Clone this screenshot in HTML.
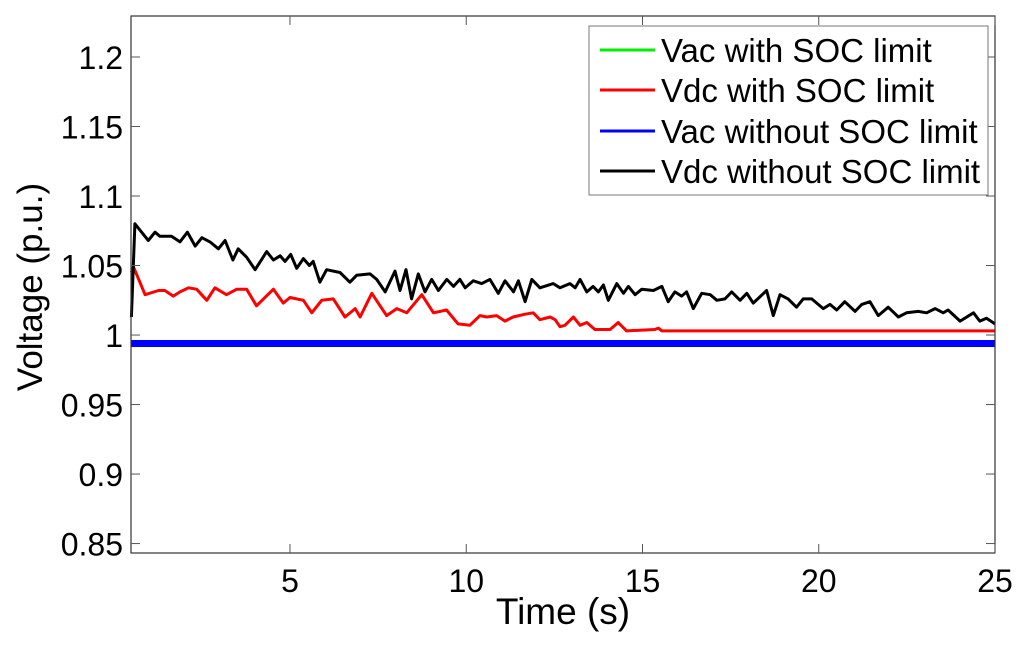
<!DOCTYPE html>
<html><head><meta charset="utf-8"><style>
html,body{margin:0;padding:0;background:#fff;}
svg{display:block;font-family:"Liberation Sans",Arial,sans-serif;}
</style></head><body>
<svg id="chart" width="1024" height="645" viewBox="0 0 1024 645">
<rect x="0" y="0" width="1024" height="645" fill="#fff"/>
<g id="grid"></g>
<g id="series"></g>
<rect x="131" y="16" width="864" height="537" fill="none" stroke="#333" stroke-width="1.2"/>
<g id="ticks"></g>
<text x="42" y="287" font-size="35" text-anchor="middle" transform="rotate(-90 42 287)">Voltage (p.u.)</text>
<text x="563" y="624" font-size="37" text-anchor="middle">Time (s)</text>
<g>
<rect x="589" y="26" width="399" height="169" fill="#fff" stroke="#777" stroke-width="1"/>
<line x1="600" y1="50" x2="655" y2="50" stroke="#00ee00" stroke-width="3"/>
<text x="661" y="62" font-size="33">Vac with SOC limit</text>
<line x1="600" y1="90" x2="655" y2="90" stroke="#ff0000" stroke-width="3"/>
<text x="661" y="102" font-size="33">Vdc with SOC limit</text>
<line x1="600" y1="131" x2="655" y2="131" stroke="#0000ff" stroke-width="3"/>
<text x="661" y="143" font-size="33">Vac without SOC limit</text>
<line x1="600" y1="171" x2="655" y2="171" stroke="#000" stroke-width="3"/>
<text x="661" y="183" font-size="33">Vdc without SOC limit</text>
</g>
</svg>
<script>
const xTicks=[5,10,15,20,25];
const yTicks=[0.85,0.9,0.95,1,1.05,1.1,1.15,1.2];
const yTickLabels=["0.85","0.9","0.95","1","1.05","1.1","1.15","1.2"];
const blackT=[0.5,0.6,0.98,1.17,1.31,1.64,1.88,2.09,2.31,2.5,2.73,2.97,3.16,3.38,3.53,3.77,4.01,4.34,4.53,4.72,4.86,5.02,5.19,5.38,5.55,5.66,5.85,6.04,6.42,6.7,6.89,7.27,7.46,7.7,7.98,8.12,8.29,8.45,8.64,8.83,9.02,9.21,9.45,9.64,9.82,9.97,10.2,10.44,10.67,10.91,11.1,11.34,11.48,11.67,11.86,12.09,12.47,12.66,12.94,13.09,13.23,13.42,13.6,13.75,13.89,14.03,14.27,14.46,14.6,14.79,14.98,15.31,15.55,15.73,15.92,16.11,16.25,16.44,16.68,16.92,17.11,17.34,17.53,17.77,17.96,18.14,18.52,18.71,18.9,19.13,19.37,19.56,19.8,20.13,20.32,20.51,20.74,21.03,21.22,21.45,21.69,21.97,22.26,22.49,22.82,23.06,23.3,23.53,23.67,24.01,24.39,24.57,24.76,25];
const blackV=[1.013,1.08,1.068,1.074,1.071,1.071,1.067,1.074,1.064,1.07,1.067,1.062,1.068,1.054,1.062,1.056,1.047,1.06,1.054,1.057,1.053,1.058,1.048,1.055,1.05,1.053,1.038,1.047,1.045,1.038,1.043,1.044,1.04,1.031,1.046,1.032,1.047,1.026,1.044,1.031,1.04,1.032,1.04,1.035,1.04,1.034,1.039,1.037,1.04,1.03,1.039,1.031,1.039,1.024,1.04,1.034,1.037,1.034,1.037,1.034,1.04,1.031,1.035,1.031,1.036,1.025,1.037,1.03,1.035,1.029,1.033,1.032,1.035,1.024,1.031,1.028,1.031,1.019,1.03,1.029,1.025,1.026,1.031,1.025,1.03,1.023,1.032,1.014,1.029,1.026,1.02,1.026,1.026,1.019,1.022,1.018,1.024,1.017,1.022,1.024,1.014,1.02,1.013,1.016,1.017,1.016,1.019,1.016,1.018,1.01,1.016,1.01,1.012,1.008];
const redT=[0.5,0.56,0.89,1.27,1.45,1.69,1.88,2.12,2.35,2.64,2.87,3.2,3.49,3.77,4.05,4.53,4.81,5.0,5.38,5.62,5.9,6.23,6.56,6.85,6.99,7.32,7.74,8.03,8.31,8.74,9.07,9.44,9.77,10.1,10.39,10.58,10.86,11.1,11.33,11.67,11.9,12.09,12.38,12.52,12.66,12.8,13.04,13.23,13.42,13.65,14.08,14.31,14.55,15.35,15.45,15.55,25];
const redV=[1.045,1.049,1.029,1.032,1.032,1.028,1.031,1.034,1.033,1.025,1.034,1.029,1.033,1.033,1.021,1.033,1.023,1.027,1.025,1.016,1.025,1.026,1.013,1.019,1.013,1.03,1.014,1.019,1.016,1.029,1.016,1.018,1.008,1.007,1.014,1.013,1.014,1.01,1.013,1.015,1.016,1.011,1.013,1.011,1.006,1.007,1.013,1.007,1.009,1.004,1.004,1.009,1.003,1.004,1.005,1.003,1.003];
const acT=[0.5,25];
const vacWith=[0.9939,0.9939];
const vacWithout=[0.9939,0.9939];
const X0=131,X1=995,Y0=553,Y1=16,tMin=0.49,tMax=25,vMin=0.8432,vMax=1.2295;
function sx(t){return X0+(t-tMin)/(tMax-tMin)*(X1-X0);}
function sy(v){return Y0-(v-vMin)/(vMax-vMin)*(Y0-Y1);}
const NS="http://www.w3.org/2000/svg";
const ser=document.getElementById('series'),tk=document.getElementById('ticks');
function line(ts,vs,color,w,name){
  const p=document.createElementNS(NS,'polyline');
  p.setAttribute('points',ts.map((t,i)=>sx(t).toFixed(1)+','+sy(vs[i]).toFixed(1)).join(' '));
  p.setAttribute('fill','none');p.setAttribute('stroke',color);p.setAttribute('stroke-width',w);
  p.setAttribute('stroke-linejoin','round');
  
  
  ser.appendChild(p);
}
line(acT,vacWith,'#00ee00',3,'vac-with-soc-line');
line(acT,vacWithout,'#0000ff',7,'vac-without-soc-line');
line(redT,redV,'#ff0000',3,'vdc-with-soc-line');
line(blackT,blackV,'#000000',3,'vdc-without-soc-line');
function seg(x1,y1,x2,y2){const l=document.createElementNS(NS,'line');l.setAttribute('x1',x1);l.setAttribute('y1',y1);l.setAttribute('x2',x2);l.setAttribute('y2',y2);l.setAttribute('stroke','#555');l.setAttribute('stroke-width','1');tk.appendChild(l);return l;}
xTicks.forEach(t=>{
  const x=sx(t);
  const a=seg(x,Y0,x,Y0-9);
  
  
  const b=seg(x,Y1,x,Y1+9);
  
  
  const tx=document.createElementNS(NS,'text');
  tx.setAttribute('x',x);tx.setAttribute('y',592);tx.setAttribute('font-size','32');tx.setAttribute('text-anchor','middle');
  tx.textContent=String(t);
  
  
  tk.appendChild(tx);
});
yTicks.forEach((v,i)=>{
  const y=sy(v);
  const a=seg(X0,y,X0+9,y);
  
  
  const b=seg(X1,y,X1-9,y);
  
  
  const tx=document.createElementNS(NS,'text');
  tx.setAttribute('x',123);tx.setAttribute('y',y+12);tx.setAttribute('font-size','32');tx.setAttribute('text-anchor','end');
  tx.textContent=yTickLabels[i];
  
  
  tk.appendChild(tx);
});
</script>
</body></html>
